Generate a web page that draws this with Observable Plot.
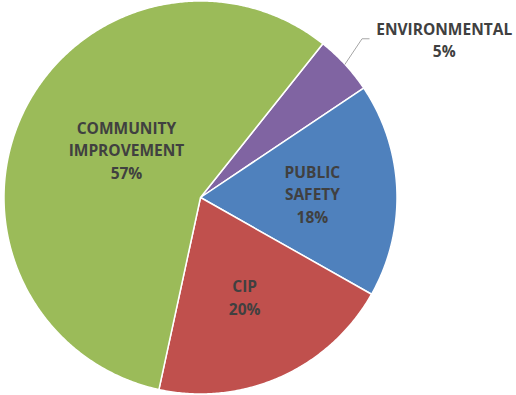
<!DOCTYPE html>
<html><head><meta charset="utf-8">
<script src="https://cdn.jsdelivr.net/npm/d3@7"></script>
<script src="https://cdn.jsdelivr.net/npm/@observablehq/plot@0.6"></script>
<style>body{margin:0;background:#fff}#chart svg{display:block}</style>
</head><body><div id="chart"></div>
<script>
// Data
const categories = ["ENVIRONMENTAL", "PUBLIC SAFETY", "CIP", "COMMUNITY IMPROVEMENT"];
const labelNames = ["ENVIRONMENTAL", "PUBLIC\nSAFETY", "CIP", "COMMUNITY\nIMPROVEMENT"];
const shares = [4.9, 17.6, 20.2, 57.3];
const colors = ["#8064A2", "#4F81BD", "#C0504D", "#9BBB59"];

// Layout
const W = 516, H = 395, cx = 200, cy = 197, R = 196.5;
const startDeg = 38.5;
const labelR = [1.48, 0.57, 0.55, 0.45];
const labelShift = [9.6, 0, 0, 7.8];
const leaderElbowGap = 0.418, leaderEndGap = 0.382;

const rad = d => d * Math.PI / 180;
const pie = d3.pie().sort(null).value(d => d)
  .startAngle(rad(startDeg)).endAngle(rad(startDeg) + 2 * Math.PI);
const arcs = pie(shares);

const slicePts = [];
arcs.forEach((a, i) => {
  slicePts.push({name: categories[i], x: 0, y: 0});
  const n = Math.max(2, Math.ceil((a.endAngle - a.startAngle) / (Math.PI / 360)));
  for (let k = 0; k <= n; k++) {
    const t = a.startAngle + (a.endAngle - a.startAngle) * k / n;
    slicePts.push({name: categories[i], x: Math.sin(t), y: -Math.cos(t)});
  }
  slicePts.push({name: categories[i], x: 0, y: 0});
});

const labels = arcs.map((a, i) => {
  const t = (a.startAngle + a.endAngle) / 2 + rad(labelShift[i]);
  return {
    text: labelNames[i] + "\n" + Math.round(shares[i]) + "%",
    x: labelR[i] * Math.sin(t),
    y: -labelR[i] * Math.cos(t)
  };
});

// leader for the outside label (first slice)
const a0 = arcs[0];
const m0 = (a0.startAngle + a0.endAngle) / 2;
const leader = [
  {x: Math.sin(m0), y: -Math.cos(m0)},
  {x: labels[0].x - leaderElbowGap, y: labels[0].y},
  {x: labels[0].x - leaderEndGap, y: labels[0].y}
];

const chart = Plot.plot({
  width: W, height: H,
  margin: 0,
  x: {domain: [-cx / R, (W - cx) / R], range: [0, W], axis: null},
  y: {domain: [-cy / R, (H - cy) / R], range: [0, H], axis: null},
  color: {domain: categories, range: colors},
  style: {background: "#fff", fontFamily: "'Open Sans', sans-serif"},
  marks: [
    Plot.line(slicePts, {x: "x", y: "y", z: "name", fill: "name", stroke: "#fff", strokeWidth: 1.5, strokeLinejoin: "round"}),
    Plot.line(leader, {x: "x", y: "y", stroke: "#A6A6A6", strokeWidth: 1}),
    Plot.text(labels, {x: "x", y: "y", text: "text", fill: "#404040", fontSize: 15.5, fontWeight: "bold", lineHeight: 1.45})
  ]
});
document.getElementById("chart").appendChild(chart);
</script>
</body></html>
